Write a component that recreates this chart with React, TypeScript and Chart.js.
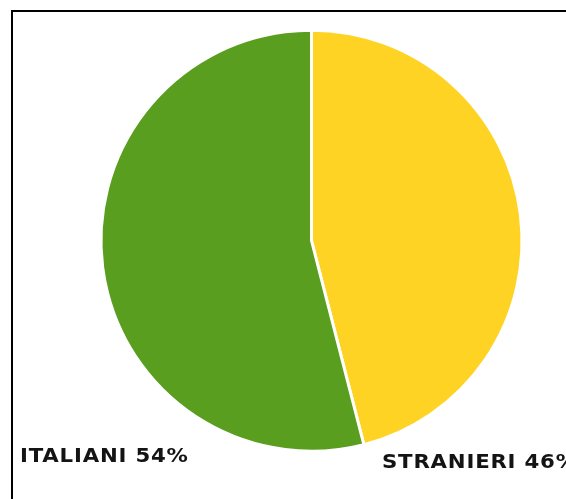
import React, { useEffect, useRef } from "react";
import { Chart, registerables } from "chart.js";

Chart.register(...registerables);

const categories: string[] = ["STRANIERI", "ITALIANI"];
const values: number[] = [46, 54];
const sliceColors: string[] = ["#FED323", "#5A9E1F"];

const W = 566;
const H = 499;

const cornerLabels = {
  id: "cornerLabels",
  afterDraw(chart: any) {
    const ctx = chart.ctx as CanvasRenderingContext2D;
    const pos: [number, number][] = [
      [382, 463],
      [20, 457],
    ];
    const sx = 1.12;
    ctx.save();
    ctx.font = "bold 19px 'DejaVu Sans'";
    (ctx as any).letterSpacing = "0.7px";
    ctx.fillStyle = "#141414";
    ctx.textAlign = "left";
    ctx.textBaseline = "middle";
    categories.forEach((c, i) => {
      ctx.save();
      ctx.translate(pos[i][0], pos[i][1]);
      ctx.scale(sx, 1);
      ctx.fillText(`${c} ${values[i]}%`, 0, 0);
      ctx.restore();
    });
    ctx.restore();
  },
};

export default function App() {
  const ref = useRef<HTMLCanvasElement | null>(null);

  useEffect(() => {
    if (!ref.current) return;
    const chart = new Chart(ref.current, {
      type: "pie",
      data: {
        labels: categories,
        datasets: [
          {
            data: values,
            backgroundColor: sliceColors,
            borderColor: "#ffffff",
            borderWidth: 3,
          },
        ],
      },
      options: {
        responsive: false,
        animation: false,
        devicePixelRatio: 1,
        layout: {
          padding: { left: 99.5, top: 28.7, right: 42.5, bottom: 46.3 },
        },
        plugins: {
          legend: { display: false },
          tooltip: { enabled: false },
          title: { display: false },
        },
      },
      plugins: [cornerLabels],
    });
    return () => chart.destroy();
  }, []);

  return (
    <div
      style={{
        position: "fixed",
        left: 0,
        top: 0,
        width: W,
        height: H,
        overflow: "hidden",
        background: "#ffffff",
      }}
    >
      <div
        style={{
          position: "absolute",
          left: 11,
          top: 10,
          width: 600,
          height: 560,
          border: "2px solid #000",
          boxSizing: "border-box",
        }}
      />
      <canvas
        ref={ref}
        width={W}
        height={H}
        style={{ position: "absolute", left: 0, top: 0, width: W, height: H }}
      />
    </div>
  );
}
